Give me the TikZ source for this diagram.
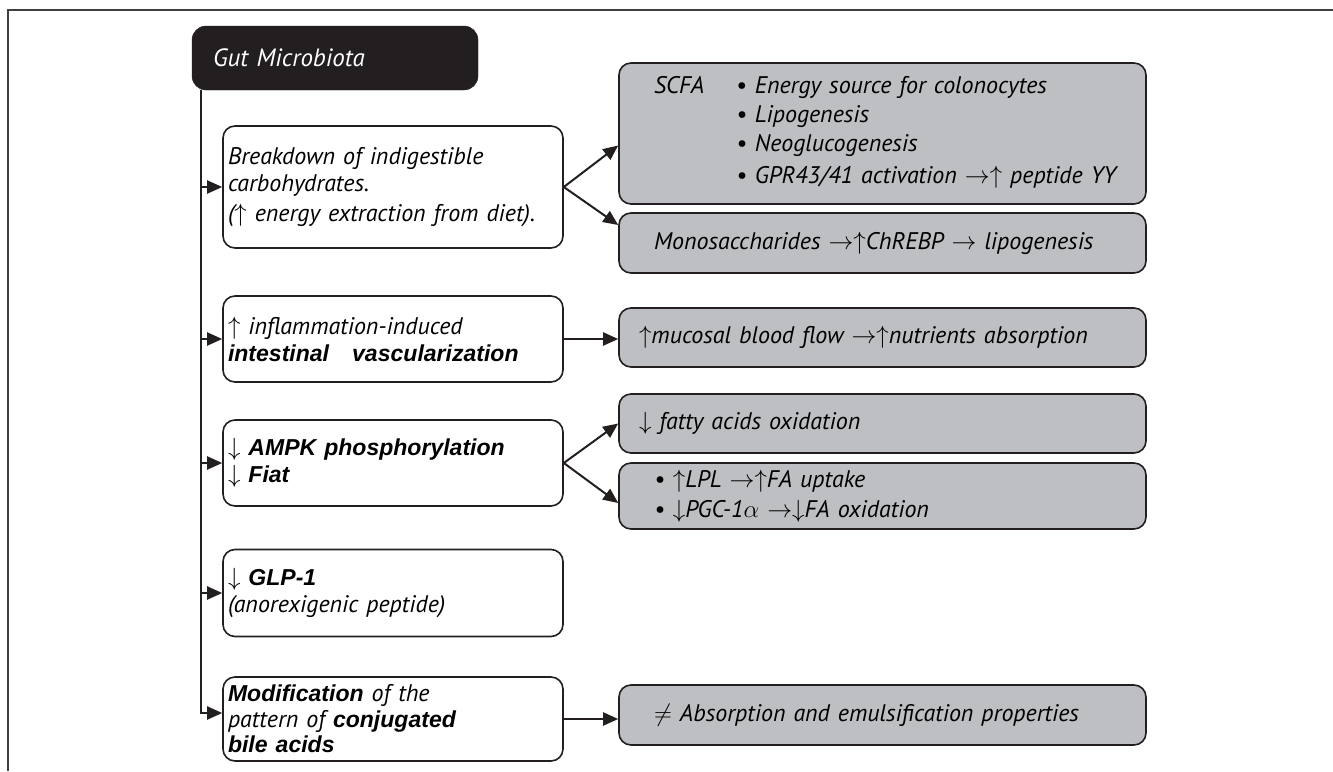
\documentclass[tikz,border=0pt]{standalone}
\usepackage{fontspec}
\setmainfont{PT Sans}
\newfontfamily\boldfam[Scale=0.96]{Liberation Sans}
\usetikzlibrary{arrows.meta}
\definecolor{ink}{RGB}{35,31,32}
\definecolor{boxgray}{RGB}{190,191,195}
\newcommand{\bitx}[1]{{\boldfam\bfseries\itshape #1}}
\tikzset{
  whitebox/.style={draw=ink,line width=1.6pt,rounded corners=12pt,fill=white,
    minimum width=340pt,text width=330pt,inner xsep=5pt,inner ysep=2pt,align=left,
    font=\itshape\fontsize{24}{27}\selectfont},
  graybox/.style={draw=ink,line width=1.6pt,rounded corners=12pt,fill=boxgray,
    minimum width=527pt,text width=505pt,inner xsep=11pt,inner ysep=2pt,align=left,
    font=\itshape\fontsize{24}{27}\selectfont},
  headbox/.style={draw=ink,fill=ink,rounded corners=14pt,text=white,
    minimum width=286pt,minimum height=64pt,text width=244pt,inner xsep=21pt,
    align=left,font=\itshape\fontsize{25}{27}\selectfont},
  conn/.style={draw=ink,line width=2pt}
}
\begin{document}
\begin{tikzpicture}[x=1pt,y=-1pt,>={Triangle[length=15pt,width=13pt]}]
\useasboundingbox (0,0) rectangle (1333,771);
\draw[line width=2pt,black!75] (1333,10) -- (8,10) -- (8,771);

\node[headbox] (gut) at (335,58) {Gut Microbiota\\[6pt]};

\node[whitebox,minimum height=122pt] (carbs) at (393,187)
  {Breakdown of indigestible\\ carbohydrates.\\[3pt] ($\uparrow$ energy extraction from diet).};
\node[whitebox,minimum height=86pt] (vasc) at (393,339)
  {$\uparrow$ inflammation-induced\\ \bitx{intestinal\quad vascularization}\\[10pt]};
\node[whitebox,minimum height=86pt] (ampk) at (393,463)
  {$\downarrow$ \bitx{AMPK phosphorylation}\\ $\downarrow$ \bitx{Fiat}};
\node[whitebox,minimum height=87pt] (glp) at (393,593)
  {$\downarrow$ \bitx{GLP-1}\\ (anorexigenic peptide)};
\node[whitebox,minimum height=84pt,font=\itshape\fontsize{24}{25.5}\selectfont] (bile) at (393,719)
  {\bitx{Modification} of the\\ pattern of \bitx{conjugated}\\ \bitx{bile acids}};

\node[graybox,minimum height=141pt] (scfa) at (882.5,133.5)
  {\hspace*{24pt}\begin{tabular}{@{}p{82pt}@{}l@{}}
    SCFA & \textbullet\ Energy source for colonocytes\\[2pt]
         & \textbullet\ Lipogenesis\\[2pt]
         & \textbullet\ Neoglucogenesis\\[5pt]
         & \textbullet\ GPR43/41 activation $\rightarrow\uparrow$ peptide YY
  \end{tabular}};
\node[graybox,minimum height=60pt] (mono) at (882.5,243)
  {\hspace*{24pt}Monosaccharides $\rightarrow\uparrow$ChREBP $\rightarrow$ lipogenesis};
\node[graybox,minimum height=59pt] (mucosa) at (882.5,337.5)
  {\hspace*{9pt}$\uparrow$mucosal blood flow $\rightarrow\uparrow$nutrients absorption\\[8pt]};
\node[graybox,minimum height=59pt] (fatty) at (882.5,423.5)
  {\hspace*{9pt}$\downarrow$ fatty acids oxidation};
\node[graybox,minimum height=66pt] (lpl) at (882.5,496)
  {\hspace*{24pt}\textbullet\ $\uparrow$LPL $\rightarrow\uparrow$FA uptake\\[3pt]
   \hspace*{24pt}\textbullet\ $\downarrow$PGC-1$\alpha$ $\rightarrow\downarrow$FA oxidation};
\node[graybox,minimum height=60pt] (absorb) at (882.5,715)
  {\hspace*{24pt}$\neq$ Absorption and emulsification properties};

\coordinate (trunk) at ([xshift=9pt]gut.south west);
\draw[conn,->] (trunk) |- ([yshift=6pt]bile.west);
\foreach \b in {carbs,vasc,ampk,glp}
  \draw[conn,->] (\b.west -| trunk) -- (\b.west);

\draw[conn,->] (carbs.east) -- ([yshift=-12pt]scfa.west);
\draw[conn,->] (carbs.east) -- ([yshift=18pt]mono.west);
\draw[conn,->] (vasc.east) -- (vasc.east -| mucosa.west);
\draw[conn,->] (ampk.east) -- (fatty.west);
\draw[conn,->] (ampk.east) -- ([yshift=-7pt]lpl.west);
\draw[conn,->] (bile.east) -- (bile.east -| absorb.west);
\end{tikzpicture}
\end{document}
